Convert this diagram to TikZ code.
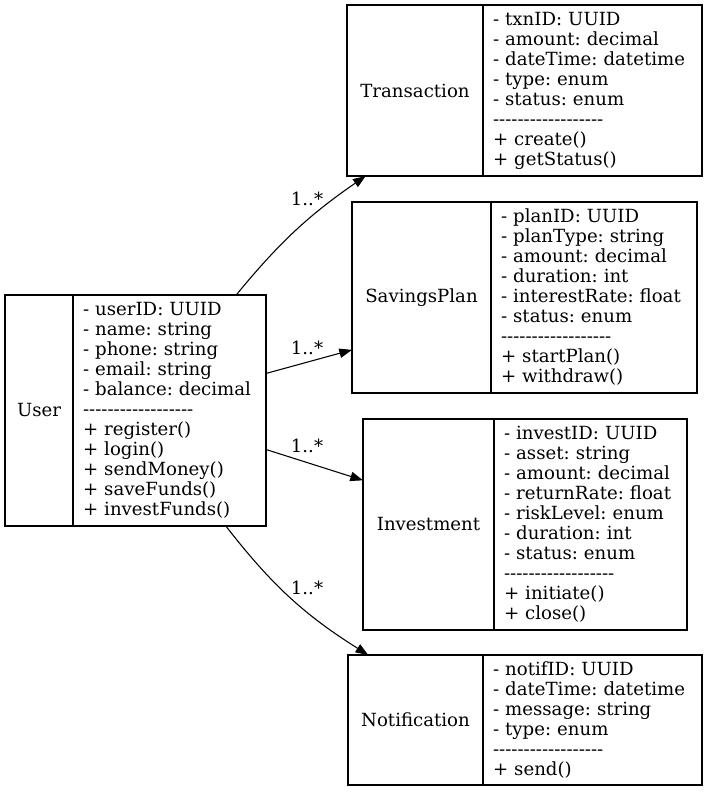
\documentclass[tikz,border=0pt]{standalone}
\usepackage{fontspec}
\setmainfont{DejaVu Serif}[Ligatures=TeXOff]
\frenchspacing
\usetikzlibrary{arrows.meta,%
                positioning}

\begin{document}
\begin{tikzpicture}[x=0.75pt, y=-0.75pt, >={Triangle[length=9.5pt,width=7pt]}, line width=0.8pt]
    \tikzstyle{cname}=[rectangle, draw, outer sep=0pt, inner sep=0pt, font=\fontsize{13.6}{15}\selectfont]
    \tikzstyle{cbody}=[rectangle, draw, outer sep=0pt, inner xsep=7.5pt, inner ysep=0pt, align=left, font=\fontsize{13.6}{15}\selectfont]
    \tikzstyle{mult}=[inner sep=1pt, font=\fontsize{13.6}{15}\selectfont]

    \useasboundingbox (0,0) rectangle (708,792);

    \node[cname, anchor=north west, minimum width=51pt, minimum height=173.25pt] (user) at (5,295) {User};
    \node[cbody, right=0pt of user, minimum height=173.25pt, text width=129.75pt] (userb) {- userID: UUID\\- name: string\\- phone: string\\- email: string\\- balance: decimal\\------------------\\+ register()\\+ login()\\+ sendMoney()\\+ saveFunds()\\+ investFunds()};

    \node[cname, anchor=north west, minimum width=102pt, minimum height=128.25pt] (txn) at (347,5) {Transaction};
    \node[cbody, right=0pt of txn, minimum height=128.25pt, text width=149.25pt] (txnb) {- txnID: UUID\\- amount: decimal\\- dateTime: datetime\\- type: enum\\- status: enum\\------------------\\+ create()\\+ getStatus()};

    \node[cname, anchor=north west, minimum width=104.25pt, minimum height=143.25pt] (plan) at (352,202) {SavingsPlan};
    \node[cbody, right=0pt of plan, minimum height=143.25pt, text width=139.5pt] (planb) {- planID: UUID\\- planType: string\\- amount: decimal\\- duration: int\\- interestRate: float\\- status: enum\\------------------\\+ startPlan()\\+ withdraw()};

    \node[cname, anchor=north west, minimum width=98.25pt, minimum height=158.25pt] (inv) at (363,419) {Investment};
    \node[cbody, right=0pt of inv, minimum height=158.25pt, text width=129.75pt] (invb) {- investID: UUID\\- asset: string\\- amount: decimal\\- returnRate: float\\- riskLevel: enum\\- duration: int\\- status: enum\\------------------\\+ initiate()\\+ close()};

    \node[cname, anchor=north west, minimum width=101.25pt, minimum height=97.5pt] (notif) at (348,655) {Notification};
    \node[cbody, right=0pt of notif, minimum height=97.5pt, text width=149.25pt] (notifb) {- notifID: UUID\\- dateTime: datetime\\- message: string\\- type: enum\\------------------\\+ send()};

    \draw[->, bend left=8] (userb.60) to (txn.240);
    \draw[->] (userb.21) to (plan.217);
    \draw[->] (userb.-22) to (inv.146);
    \draw[->, bend right=10] (userb.-64) to (notif.126);

    \node[mult] (m1) at (307,199) {1..*};
    \node[mult] (m2) at (307,348) {1..*};
    \node[mult] (m3) at (307,446) {1..*};
    \node[mult] (m4) at (307,588) {1..*};

\end{tikzpicture}
\end{document}
